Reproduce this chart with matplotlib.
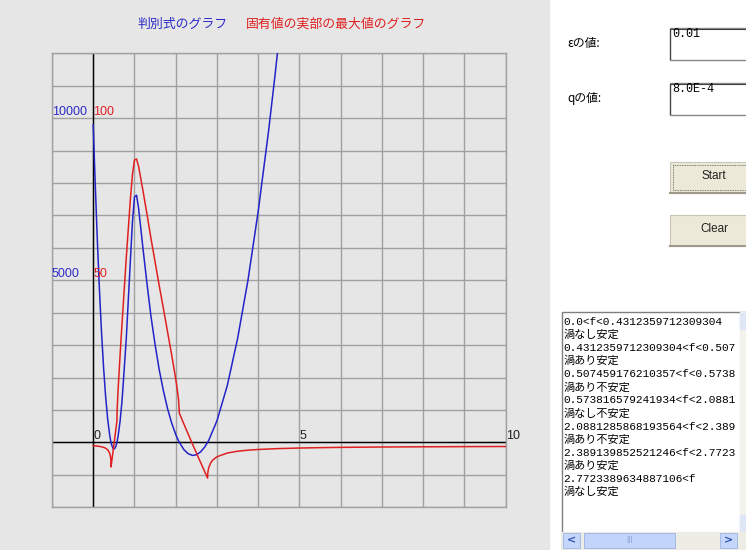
import matplotlib.pyplot as plt
from matplotlib.patches import Rectangle

plt.rcParams['font.family'] = ['Noto Sans CJK JP', 'DejaVu Sans']

# discriminant of the Jacobian against f (blue curve)
f_disc = [0, 0.01, 0.02, 0.05, 0.1, 0.15, 0.2, 0.25, 0.3, 0.35, 0.4, 0.42, 0.4312,
          0.45, 0.48, 0.5, 0.52, 0.55, 0.5738, 0.6, 0.65, 0.7, 0.8, 0.9, 0.95, 1.0,
          1.05, 1.1, 1.2, 1.3, 1.4, 1.5, 1.6, 1.7, 1.8, 1.9, 2.0, 2.05, 2.0881, 2.2,
          2.3, 2.4, 2.424, 2.5, 2.6, 2.7, 2.7723, 2.8, 3.0, 3.25, 3.5, 3.75, 4.0,
          4.25, 4.4, 4.5]
disc = [9801, 9405, 9019, 7906, 6210, 4713, 3415, 2317, 1417, 716, 214, 68, 0,
        -91, -180, -199, -187, -111, 0, 173, 648, 1313, 3181, 5605, 6800, 7572,
        7624, 7215, 6049, 4931, 3883, 3011, 2238, 1600, 1050, 604, 246, 99, 0, -225,
        -346, -397, -399, -380, -295, -147, 0, 65, 670, 1754, 3206, 4991, 7135,
        9597, 11241, 12407]

# largest real part of the eigenvalues against f (red curve)
f_real = [0, 0.05, 0.1, 0.15, 0.2, 0.25, 0.3, 0.35, 0.4, 0.42, 0.425, 0.43, 0.4312,
          0.44, 0.45, 0.48, 0.5, 0.52, 0.55, 0.5738, 0.58, 0.6, 0.65, 0.7, 0.8, 0.9,
          0.95, 1.0, 1.05, 1.1, 1.2, 1.3, 1.4, 1.5, 1.6, 1.7, 1.8, 1.9, 2.0, 2.05,
          2.07, 2.0881, 2.1, 2.2, 2.3, 2.4, 2.5, 2.6, 2.7, 2.7723, 2.775, 2.78, 2.8,
          2.85, 2.9, 3.0, 3.25, 3.5, 3.75, 4.0, 4.5, 5.0, 5.5, 6.0, 7.0, 8.0, 9.0, 10.0]
max_real = [-1.0, -1.06, -1.13, -1.22, -1.34, -1.51, -1.78, -2.25, -3.35, -4.55,
            -5.2, -6.36, -7.56, -6.69, -5.70, -2.72, -0.74, 1.24, 4.21, 6.56, 10.17,
            15.71, 26.79, 37.07, 56.77, 75.03, 82.57, 87.11, 87.42, 85.08, 78.03,
            70.61, 62.87, 55.63, 48.33, 41.36, 34.23, 27.12, 19.54, 15.13, 12.9,
            8.99, 8.63, 5.60, 2.64, -0.32, -3.21, -6.10, -8.94, -10.99, -9.85, -9.11,
            -7.75, -6.23, -5.40, -4.41, -3.26, -2.71, -2.39, -2.17, -1.89, -1.72,
            -1.61, -1.52, -1.41, -1.34, -1.29, -1.25]

title_disc = '判別式のグラフ'
title_real = '固有値の実部の最大値のグラフ'
disc_ticks = [5000, 10000]
real_ticks = [50, 100]
f_ticks = [0, 5, 10]
eps_value = '0.01'
q_value = '8.0E-4'
# visible part of the result list (the box is scrolled to the left edge)
result_lines = [
    '0.0<f<0.4312359712309304', '渦なし安定',
    '0.4312359712309304<f<0.507', '渦あり安定',
    '0.507459176210357<f<0.5738', '渦あり不安定',
    '0.573816579241934<f<2.0881', '渦なし不安定',
    '2.0881285868193564<f<2.389', '渦あり不安定',
    '2.389139852521246<f<2.7723', '渦あり安定',
    '2.7723389634887106<f', '渦なし安定',
]

W, H = 746, 550
fig = plt.figure(figsize=(W / 100, H / 100), dpi=100, facecolor='white')

# pixel layer for panel background and widgets
ui = fig.add_axes([0, 0, 1, 1])
ui.set_xlim(0, W)
ui.set_ylim(H, 0)
ui.axis('off')
ui.add_patch(Rectangle((0, 0), 549, H, color='#e6e6e6', zorder=0))

ui.text(137, 24, title_disc, color='#2b2bc8', fontsize=9.3, va='center')
ui.text(246, 24, title_real, color='#e02020', fontsize=9.3, va='center')

# parameter inputs
for y, label, value in [(28, 'εの値:', eps_value), (83, 'qの値:', q_value)]:
    ui.text(567, y + 15, label, fontsize=8.5, va='center')
    ui.add_patch(Rectangle((669.5, y), 100, 32, facecolor='white',
                           edgecolor='#8a8a8a', lw=1))
    ui.plot([670, 670, 760], [y + 31, y + 1, y + 1], color='#404040', lw=0.8)
    ui.text(672, y + 6, value, family='Liberation Mono', fontsize=8.5, va='center')

# buttons
for y, label, focus in [(162, 'Start', True), (215, 'Clear', False)]:
    ui.add_patch(Rectangle((670, y), 100, 31, facecolor='#ece9d8',
                           edgecolor='#c9c6b8', lw=0.8))
    ui.plot([670, 760], [y + 31, y + 31], color='#9d9a8c', lw=1.5)
    if focus:
        ui.add_patch(Rectangle((673, y + 3), 90, 25, fill=False,
                               edgecolor='#555555', lw=0.6, ls=(0, (1, 1))))
    ui.text(714, y + 14, label, family='Liberation Sans', fontsize=8.5,
            ha='center', va='center', color='#222222')

# result list with scrollbars
ui.add_patch(Rectangle((561.5, 311.5), 200, 250, facecolor='white',
                       edgecolor='#7f7f7f', lw=1))
ui.add_patch(Rectangle((740, 312), 10, 220, color='#f3f2ec'))
ui.add_patch(Rectangle((740, 313), 10, 16, color='#dfe6f5'))
ui.add_patch(Rectangle((740, 515), 10, 16, color='#dfe6f5'))
ui.add_patch(Rectangle((562, 532), 190, 17, color='#eeede5'))
ui.add_patch(Rectangle((563, 533), 17, 15, facecolor='#c6d6fb', edgecolor='#9cb4e6', lw=0.6))
ui.add_patch(Rectangle((720, 533), 17, 15, facecolor='#c6d6fb', edgecolor='#9cb4e6', lw=0.6))
ui.add_patch(Rectangle((584, 533), 91, 15, facecolor='#c3d4fb', edgecolor='#98b0e3', lw=0.6))
ui.text(571.5, 540.5, '<', fontsize=8, fontweight='bold', color='#3050b0',
        family='DejaVu Sans', ha='center', va='center')
ui.text(728.5, 540.5, '>', fontsize=8, fontweight='bold', color='#3050b0',
        family='DejaVu Sans', ha='center', va='center')
ui.text(629.5, 540.5, 'III', fontsize=5.5, color='#8aa2d8', family='DejaVu Sans',
        ha='center', va='center')

lst = fig.add_axes([563 / W, (H - 531) / H, (740 - 563) / W, (531 - 312) / H])
lst.set_xlim(0, 740 - 563)
lst.set_ylim(531 - 312, 0)
lst.axis('off')
for i, line in enumerate(result_lines):
    fam = 'Liberation Mono' if line.isascii() else 'Noto Sans CJK JP'
    lst.text(0.5, 9.7 + i * 13.1, line, family=fam, fontsize=8, va='center')

# chart: grid of unit cells, blue scale 1000 per cell, red scale 10 per cell
ax = fig.add_axes([52 / W, (H - 507.3) / H, (505.7 - 52) / W, 454 / H])
ax.set_facecolor('none')
ax.set_xlim(-1, 10)
ax.set_ylim(-2000, 12000)
ax.set_xticks(range(-1, 11))
ax.set_yticks(range(-2000, 12001, 1000))
ax.tick_params(length=0, labelbottom=False, labelleft=False)
ax.grid(True, color='#a0a0a0', lw=1.0)
for s in ax.spines.values():
    s.set_color('#a0a0a0')
    s.set_linewidth(1.0)
ax.axhline(0, color='black', lw=1.0, zorder=2)
ax.axvline(0, color='black', lw=1.0, zorder=2)
ax.plot(f_disc, disc, color='#2323c8', lw=1.1, zorder=3)

for v in disc_ticks:
    ax.text(-1, v, str(v), color='#2b2bc8', family='Liberation Sans', fontsize=9,
            ha='left', va='bottom')
for v in f_ticks:
    ax.text(v, 0, str(v), color='#202020', family='Liberation Sans', fontsize=9,
            ha='left', va='bottom', clip_on=False)

ax2 = ax.twinx()
ax2.set_ylim(-20, 120)
ax2.axis('off')
ax2.plot(f_real, max_real, color='#e02020', lw=1.1, zorder=3)
for v in real_ticks:
    ax2.text(0, v, str(v), color='#e02020', family='Liberation Sans', fontsize=9,
             ha='left', va='bottom')

fig.savefig('out.png', dpi=100, facecolor=fig.get_facecolor())
